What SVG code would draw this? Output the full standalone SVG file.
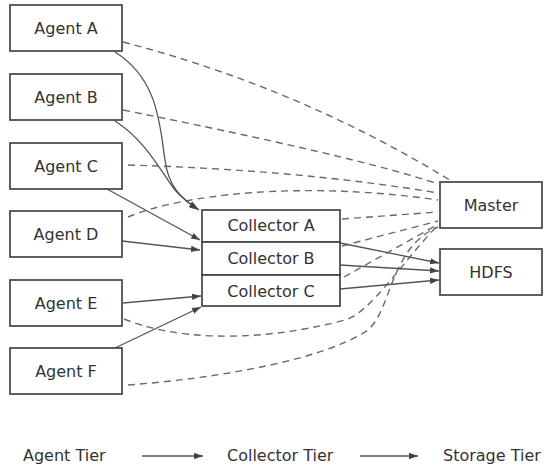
<svg xmlns="http://www.w3.org/2000/svg" width="545" height="467" viewBox="0 0 545 467">
<style>
.box{fill:#fff;stroke:#444;stroke-width:1.7}
.lbl{font-family:"DejaVu Sans","Liberation Sans",sans-serif;font-size:16px;fill:#333;text-anchor:middle}
.ft{font-family:"DejaVu Sans","Liberation Sans",sans-serif;font-size:16px;fill:#333}
.solid{fill:none;stroke:#555;stroke-width:1.3;marker-end:url(#arr)}
.dash{fill:none;stroke:#6a6a6a;stroke-width:1.4;stroke-dasharray:7 5}
</style>
<defs>
<marker id="arr" viewBox="0 0 10 10" refX="10" refY="5" markerWidth="9" markerHeight="9" markerUnits="userSpaceOnUse" orient="auto">
<path d="M0,1.5 L10,5 L0,8.5 z" fill="#444"/>
</marker>
</defs>
<rect width="545" height="467" fill="#fff"/>
<g id="connectors">
<path class="dash" d="M123,42 Q300,88 453,182"/>
<path class="dash" d="M123,110 Q359,157 438,184"/>
<path class="dash" d="M128,165 Q300,170 438,193"/>
<path class="dash" d="M128,217 C180,195 300,180 438,200"/>
<path class="dash" d="M342,219 L438,212"/>
<path class="dash" d="M342,246 L438,221"/>
<path class="dash" d="M344,277 L437,225"/>
<path class="dash" d="M124,319 C170,338 250,345 345,320 C370,313 400,265 437,226"/>
<path class="dash" d="M128,385 C220,378 320,360 365,332 C392,315 388,248 438,227"/>
<path class="solid" d="M115,52 C160,80 160,130 165,160 C168,185 180,198 199,210"/>
<path class="solid" d="M115,121 C145,140 160,170 175,190 C182,198 190,204 198,209"/>
<path class="solid" d="M107,189 L200,240"/>
<path class="solid" d="M122,241 L200,250"/>
<path class="solid" d="M123,303 L201,296"/>
<path class="solid" d="M115,348 L201,307"/>
<path class="solid" d="M340,243 L439,263"/>
<path class="solid" d="M340,265 L439,271"/>
<path class="solid" d="M340,289 L439,280"/>
</g>
<g id="agent-a"><rect class="box" x="10" y="5" width="112" height="46"/><text class="lbl" x="66" y="33.5">Agent A</text></g>
<g id="agent-b"><rect class="box" x="10" y="74" width="112" height="46"/><text class="lbl" x="66" y="102.5">Agent B</text></g>
<g id="agent-c"><rect class="box" x="10" y="143" width="112" height="46"/><text class="lbl" x="66" y="171.5">Agent C</text></g>
<g id="agent-d"><rect class="box" x="10" y="211" width="112" height="46"/><text class="lbl" x="66" y="239.5">Agent D</text></g>
<g id="agent-e"><rect class="box" x="10" y="280" width="112" height="46"/><text class="lbl" x="66" y="308.5">Agent E</text></g>
<g id="agent-f"><rect class="box" x="10" y="348" width="112" height="46"/><text class="lbl" x="66" y="376.5">Agent F</text></g>
<g id="collector-a"><rect class="box" x="202" y="210" width="138" height="32"/><text class="lbl" x="271" y="231">Collector A</text></g>
<g id="collector-b"><rect class="box" x="202" y="242" width="138" height="33"/><text class="lbl" x="271" y="264">Collector B</text></g>
<g id="collector-c"><rect class="box" x="202" y="275" width="138" height="31"/><text class="lbl" x="271" y="296.5">Collector C</text></g>
<g id="master"><rect class="box" x="440" y="182" width="102" height="46"/><text class="lbl" x="491" y="210.5">Master</text></g>
<g id="hdfs"><rect class="box" x="440" y="249" width="102" height="46"/><text class="lbl" x="491" y="277.5">HDFS</text></g>
<g id="legend">
<text class="ft" x="23" y="461">Agent Tier</text>
<path class="solid" d="M142,456 L203,456"/>
<text class="ft" x="227" y="461">Collector Tier</text>
<path class="solid" d="M360,456 L418,456"/>
<text class="ft" x="443" y="461">Storage Tier</text>
</g>
</svg>
